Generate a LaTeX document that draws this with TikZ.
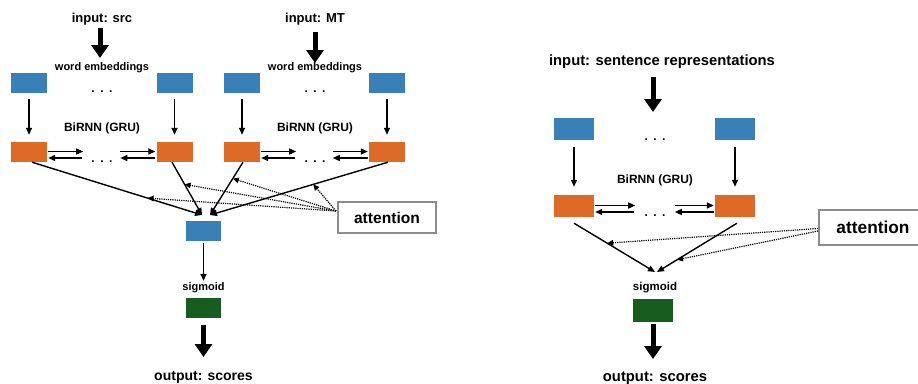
\documentclass[tikz,border=0pt]{standalone}
\usepackage{fontspec}
\setmainfont{Liberation Sans}
\usetikzlibrary{arrows.meta,calc}
\definecolor{embc}{RGB}{58,128,184}
\definecolor{rnnc}{RGB}{221,106,38}
\definecolor{sigc}{RGB}{24,92,32}
\definecolor{attc}{RGB}{140,140,140}
\tikzset{
  lbl/.style={font=\bfseries\fontsize{#1}{#1}\selectfont, anchor=base, inner sep=0pt},
  sbox/.style={minimum width=36pt, minimum height=20pt, inner sep=0pt},
  rbox/.style={minimum width=40pt, minimum height=22pt, inner sep=0pt},
  embfill/.style={fill=embc},
  rnnfill/.style={fill=rnnc},
  sigfill/.style={fill=sigc},
  arr/.style={line width=1.4pt, -{Triangle[length=7pt,width=6pt]}},
  datt/.style={line width=1.2pt, dash pattern=on 1.2pt off 1pt, -{Triangle[length=6pt,width=5.5pt]}},
  bigarr/.style={line width=5pt, -{Triangle[length=13pt,width=17pt]}},
  attbox/.style={draw=attc, line width=1.3pt, fill=white, inner sep=0pt,
     font=\bfseries\fontsize{#1}{#1}\selectfont},
}
\newcommand{\tridots}{.\hspace{5.5pt}.\hspace{5.5pt}.}
\begin{document}
\begin{tikzpicture}[x=1pt,y=-1pt]
\useasboundingbox (0,0) rectangle (918,383);
% ================= LEFT DIAGRAM =================
\node[lbl=13] (inSrc) at (102,22) {input: src};
\node[lbl=13] (inMT) at (315,22) {input: MT};
\node[lbl=11] (we1) at (102,70.7) {word embeddings};
\node[lbl=11] (we2) at (315,70.7) {word embeddings};
\node[sbox,embfill] (b1) at (29,82.5) {};
\node[sbox,embfill] (b2) at (174.5,82.5) {};
\node[sbox,embfill] (b3) at (242,82.5) {};
\node[sbox,embfill] (b4) at (387,82.5) {};
\node[lbl=12] (dt1) at (102,92) {\tridots};
\node[lbl=12] (dt2) at (315,92) {\tridots};
\node[lbl=12] (bi1) at (102,131) {BiRNN (GRU)};
\node[lbl=12] (bi2) at (315,131) {BiRNN (GRU)};
\node[sbox,rnnfill] (o1) at (29,152) {};
\node[sbox,rnnfill] (o2) at (174.5,152) {};
\node[sbox,rnnfill] (o3) at (242,152) {};
\node[sbox,rnnfill] (o4) at (387,152) {};
\node[lbl=12] (dt3) at (102,162) {\tridots};
\node[lbl=12] (dt4) at (315,162) {\tridots};
\node[sbox,embfill,minimum width=35pt] (m) at (203.5,231) {};
\node[attbox=15.6, minimum width=98pt, minimum height=31pt] (att) at (387,217.5) {attention};
\node[lbl=11] (sig) at (203.5,290) {sigmoid};
\node[sbox,sigfill,minimum width=35pt] (g) at (203.5,308) {};
\node[lbl=14] (out) at (203.5,380) {output: scores};
% thick input arrows
\coordinate (srcS) at (100,28);
\coordinate (srcE) at (100,58);
\coordinate (mtS) at (315,32);
\coordinate (mtE) at (315,63);
\draw[bigarr] (srcS) -- (srcE);
\draw[bigarr] (mtS) -- (mtE);
% embeddings -> rnn
\foreach \a/\b in {b1/o1,b2/o2,b3/o3,b4/o4}
  \draw[arr, shorten <=6pt, shorten >=7pt] (\a.south) -- (\b.north);
% bidirectional arrows
\draw[arr] ($(o1.east)+(1,-0.5)$) -- ($(o1.east)+(36,-0.5)$);
\draw[arr] ($(o1.east)+(35,6)$) -- ($(o1.east)+(1,6)$);
\draw[arr] ($(o2.west)+(-36,-0.5)$) -- ($(o2.west)+(-1,-0.5)$);
\draw[arr] ($(o2.west)+(-1,6)$) -- ($(o2.west)+(-36,6)$);
\draw[arr] ($(o3.east)+(1,-0.5)$) -- ($(o3.east)+(36,-0.5)$);
\draw[arr] ($(o3.east)+(35,6)$) -- ($(o3.east)+(1,6)$);
\draw[arr] ($(o4.west)+(-36,-0.5)$) -- ($(o4.west)+(-1,-0.5)$);
\draw[arr] ($(o4.west)+(-1,6)$) -- ($(o4.west)+(-36,6)$);
% rnn -> combined
\coordinate (mL) at (202,215);
\coordinate (mR) at (210,215);
\draw[arr] ($(o1.south)+(3,0)$) -- coordinate[pos=0.68] (p1) (mL);
\draw[arr] ($(o2.south)+(-2.5,0)$) -- coordinate[pos=0.42] (p2) (mL);
\draw[arr] ($(o3.south)+(1,0)$) -- coordinate[pos=0.31] (p3) (mR);
\draw[arr] ($(o4.south)+(1,0)$) -- coordinate[pos=0.42] (p4) (mR);
% attention
\coordinate (attL) at (336,211);
\foreach \p in {p1,p2,p3,p4}
  \draw[datt] (attL) -- (\p);
% to sigmoid and output
\draw[arr, shorten <=2pt, shorten >=1pt] (m.south) -- (sig.north);
\coordinate (gS) at (203.5,325);
\coordinate (gE) at (203.5,357);
\draw[bigarr] (gS) -- (gE);
% ================= RIGHT DIAGRAM =================
\node[lbl=14.8] (inS) at (662,65.7) {input: sentence representations};
\coordinate (sS) at (653,77);
\coordinate (sE) at (653,112);
\draw[bigarr] (sS) -- (sE);
\node[rbox,embfill] (rb1) at (574,129) {};
\node[rbox,embfill] (rb2) at (735,129) {};
\node[lbl=12] (dt5) at (655,140) {\tridots};
\node[lbl=12] (bi3) at (655,183) {BiRNN (GRU)};
\node[rbox,rnnfill] (ro1) at (574,206) {};
\node[rbox,rnnfill] (ro2) at (735,206) {};
\node[lbl=12] (dt6) at (655,216) {\tridots};
\draw[arr, shorten <=7pt, shorten >=8pt] (rb1.south) -- (ro1.north);
\draw[arr, shorten <=7pt, shorten >=8pt] (rb2.south) -- (ro2.north);
\draw[arr] ($(ro1.east)+(1,-0.5)$) -- ($(ro1.east)+(41,-0.5)$);
\draw[arr] ($(ro1.east)+(40,6)$) -- ($(ro1.east)+(1,6)$);
\draw[arr] ($(ro2.west)+(-40,-0.5)$) -- ($(ro2.west)+(-1,-0.5)$);
\draw[arr] ($(ro2.west)+(-1,6)$) -- ($(ro2.west)+(-40,6)$);
\node[attbox=17.3, minimum width=108pt, minimum height=35pt] (ratt) at (873,227.5) {attention};
\coordinate (rL) at (655,272);
\coordinate (rR) at (657,272);
\draw[arr] ($(ro1.south)+(0,6)$) -- coordinate[pos=0.41] (q1) (rL);
\draw[arr] ($(ro2.south)+(2,6)$) -- coordinate[pos=0.75] (q2) (rR);
\coordinate (rattL1) at (818,228.5);
\coordinate (rattL2) at (818,231);
\draw[datt] (rattL1) -- (q1);
\draw[datt] (rattL2) -- (q2);
\node[lbl=11.5] (rsig) at (655,290.7) {sigmoid};
\node[rbox,sigfill,minimum height=23pt] (rg) at (653,310.5) {};
\coordinate (rgS) at (653,324);
\coordinate (rgE) at (653,359);
\draw[bigarr] (rgS) -- (rgE);
\node[lbl=14.8] (rout) at (655,381.5) {output: scores};
\end{tikzpicture}
\end{document}
